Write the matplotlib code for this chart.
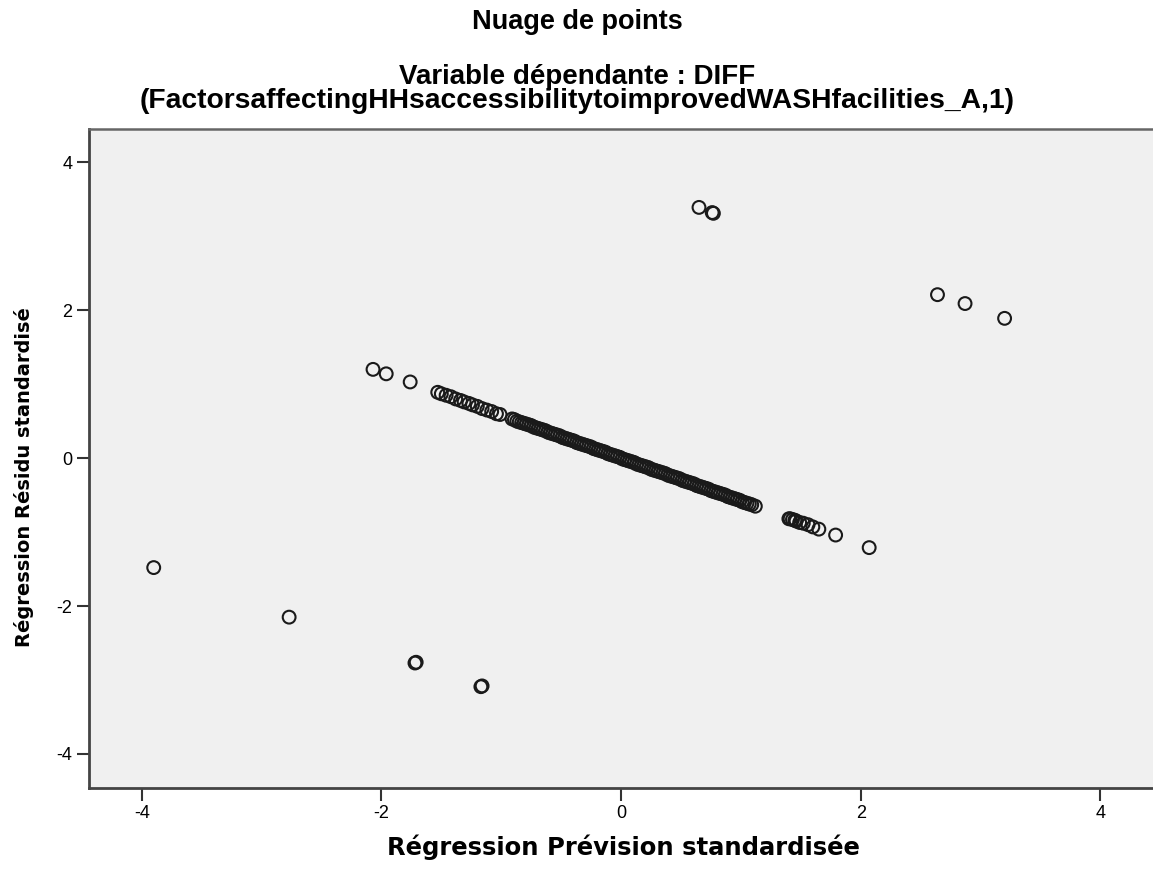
#Scatter of standardized residuals against standardized predicted values for a regression.
import matplotlib.pyplot as plt

#sparse points at the upper-left end of the diagonal band
upper_x = [-2.07, -1.96, -1.76,
           -1.53, -1.50, -1.46, -1.42, -1.38, -1.34, -1.31, -1.27, -1.24, -1.20,
           -1.16, -1.12, -1.08, -1.04, -1.01]
upper_y = [1.20, 1.14, 1.03,
           0.89, 0.87, 0.85, 0.83, 0.80, 0.78, 0.76, 0.74, 0.72, 0.70,
           0.67, 0.65, 0.63, 0.60, 0.59]

#dense middle part of the band
band_x = [-0.91, -0.89, -0.87, -0.85, -0.83, -0.81, -0.79, -0.77, -0.75, -0.73, -0.71, -0.69,
          -0.67, -0.65, -0.63, -0.61, -0.59, -0.57, -0.55, -0.53, -0.51, -0.49, -0.47, -0.45,
          -0.43, -0.41, -0.39, -0.37, -0.35, -0.33, -0.31, -0.29, -0.27, -0.25, -0.23, -0.21,
          -0.19, -0.17, -0.15, -0.13, -0.11, -0.09, -0.07, -0.05, -0.03, -0.01, 0.01, 0.03,
          0.05, 0.07, 0.09, 0.11, 0.13, 0.15, 0.17, 0.19, 0.21, 0.23, 0.25, 0.27,
          0.29, 0.31, 0.33, 0.35, 0.37, 0.39, 0.41, 0.43, 0.45, 0.47, 0.49, 0.51,
          0.53, 0.55, 0.57, 0.59, 0.61, 0.63, 0.65, 0.67, 0.69, 0.71, 0.73, 0.75,
          0.77, 0.79, 0.81, 0.83, 0.85, 0.87, 0.89, 0.91, 0.93, 0.95, 0.97, 0.99,
          1.01, 1.03, 1.05, 1.07, 1.09, 1.12]
band_y = [0.53, 0.52, 0.50, 0.49, 0.48, 0.47, 0.46, 0.45, 0.44, 0.42, 0.41, 0.40,
          0.39, 0.38, 0.37, 0.35, 0.34, 0.33, 0.32, 0.31, 0.30, 0.28, 0.27, 0.26,
          0.25, 0.24, 0.23, 0.21, 0.20, 0.19, 0.18, 0.17, 0.16, 0.15, 0.13, 0.12,
          0.11, 0.10, 0.09, 0.08, 0.06, 0.05, 0.04, 0.03, 0.02, 0.01, -0.01, -0.02,
          -0.03, -0.04, -0.05, -0.06, -0.08, -0.09, -0.10, -0.11, -0.12, -0.13, -0.15, -0.16,
          -0.17, -0.18, -0.19, -0.20, -0.21, -0.23, -0.24, -0.25, -0.26, -0.27, -0.28, -0.30,
          -0.31, -0.32, -0.33, -0.34, -0.35, -0.37, -0.38, -0.39, -0.40, -0.41, -0.42, -0.44,
          -0.45, -0.46, -0.47, -0.48, -0.49, -0.50, -0.52, -0.53, -0.54, -0.55, -0.56, -0.57,
          -0.59, -0.60, -0.61, -0.62, -0.63, -0.65]

#lower-right end of the band
lower_x = [1.40, 1.41, 1.43, 1.45, 1.46, 1.49, 1.52, 1.56, 1.60, 1.65, 1.79, 2.07]
lower_y = [-0.82, -0.82, -0.83, -0.84, -0.85, -0.87, -0.88, -0.90, -0.93, -0.96, -1.04, -1.21]

#points away from the band
outlier_x = [-3.90, -2.77, -1.72, -1.71, -1.17, -1.16, 0.65, 0.76, 0.77, 2.64, 2.87, 3.20]
outlier_y = [-1.48, -2.15, -2.77, -2.76, -3.09, -3.08, 3.39, 3.32, 3.31, 2.21, 2.09, 1.89]

ticks = [-4, -2, 0, 2, 4]

fig = plt.figure(figsize=(11.53, 8.74), dpi=100)
ax = fig.add_axes([89/1153, 86/874, (1158-89)/1153, (788-129)/874])
ax.set_facecolor("#f0f0f0")

xs = upper_x + band_x + lower_x + outlier_x
ys = upper_y + band_y + lower_y + outlier_y
ax.scatter(xs, ys, s=85, facecolors="none", edgecolors="#1a1a1a", linewidths=1.5, zorder=3)

ax.set_xlim(-4.44, 4.48)
ax.set_ylim(-4.46, 4.45)
ax.set_xticks(ticks)
ax.set_yticks(ticks)
ax.set_xticklabels([str(t) for t in ticks], fontfamily="Liberation Sans", fontsize=13)
ax.set_yticklabels([str(t) for t in ticks], fontfamily="Liberation Sans", fontsize=13)
ax.tick_params(direction="out", length=9, width=1.5, color="#333333", pad=3)

for side in ["left", "bottom"]:
    ax.spines[side].set_color("#444444")
    ax.spines[side].set_linewidth(2)
ax.spines["top"].set_color("#666666")
ax.spines["top"].set_linewidth(1.8)
ax.spines["right"].set_visible(False)

ax.set_xlabel("Régression Prévision standardisée", fontfamily="DejaVu Sans",
              fontweight="bold", fontsize=17.5, labelpad=9)
fig.text(24/1153, 1 - 477/874, "Régression Résidu standardisé", rotation=90,
         ha="center", va="center", fontfamily="DejaVu Sans", fontweight="bold", fontsize=14)

fig.text(577/1153, 1 - 22/874, "Nuage de points", ha="center", va="center",
         fontfamily="Liberation Sans", fontweight="bold", fontsize=19.5)
fig.text(577/1153, 1 - 77/874, "Variable dépendante : DIFF", ha="center", va="center",
         fontfamily="Liberation Sans", fontweight="bold", fontsize=20)
fig.text(577/1153, 1 - 101/874, "(FactorsaffectingHHsaccessibilitytoimprovedWASHfacilities_A,1)",
         ha="center", va="center", fontfamily="Liberation Sans", fontweight="bold", fontsize=20.3)

fig.savefig("out.png", dpi=100)
